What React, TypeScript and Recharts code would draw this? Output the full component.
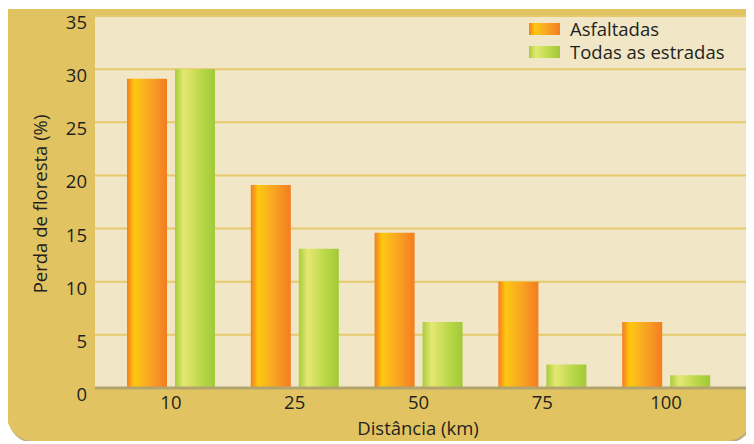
import { Bar, BarChart, CartesianGrid, Label, Legend, XAxis, YAxis } from "recharts";

const categories = ["10", "25", "50", "75", "100"];
const asfaltadas = [29.1, 19.1, 14.6, 10.0, 6.2];
const todasEstradas = [30.0, 13.1, 6.2, 2.2, 1.2];
const yTicks = [0, 5, 10, 15, 20, 25, 30, 35];

const seriesNames = ["Asfaltadas", "Todas as estradas"];

const data = categories.map((dist, i) => ({
  dist,
  asfaltadas: asfaltadas[i],
  todas: todasEstradas[i],
}));

const FONT = "'Open Sans', sans-serif";
const FS = 18.5;
const TEXT = "#231F20";
const orangeCss = "linear-gradient(90deg, #F47B20 0%, #FFC70D 18%, #FCC016 28%, #F8A324 60%, #F47C20 100%)";
const greenCss = "linear-gradient(90deg, #A8CC3A 0%, #E4E872 22%, #DCE46A 32%, #B6D645 70%, #A2C938 100%)";

function XTick({ x, y, payload }: any) {
  return (
    <text x={x} y={y + 13} textAnchor="middle" fill={TEXT} fontSize={FS} fontFamily={FONT}>
      {payload.value}
    </text>
  );
}

function YTick({ x, y, payload }: any) {
  return (
    <text x={x} y={y + 13} textAnchor="end" fill={TEXT} fontSize={FS} fontFamily={FONT}>
      {payload.value}
    </text>
  );
}

function LegendBox() {
  const swatches = [orangeCss, greenCss];
  return (
    <div style={{ fontFamily: FONT, fontSize: FS, color: TEXT }}>
      {seriesNames.map((name, i) => (
        <div key={name} style={{ display: "flex", alignItems: "center", height: 23 }}>
          <span style={{ width: 31, height: 12, background: swatches[i], marginRight: 10 }} />
          <span>{name}</span>
        </div>
      ))}
    </div>
  );
}

export default function App() {
  return (
    <div
      style={{
        marginLeft: -1,
        marginTop: 1,
        width: 745,
        height: 432,
        background: "#E1C461",
        borderRadius: "0 0 26px 26px",
        boxShadow: "1px 2px 0 #B8AC86",
      }}
    >
      <BarChart
        width={745}
        height={432}
        data={data}
        margin={{ top: 7, right: 5, bottom: 0, left: 0 }}
        barSize={40}
        barGap={8}
      >
        <defs>
          <linearGradient id="gOrange" x1="0" y1="0" x2="1" y2="0">
            <stop offset="0%" stopColor="#F47B20" />
            <stop offset="18%" stopColor="#FFC70D" />
            <stop offset="28%" stopColor="#FCC016" />
            <stop offset="60%" stopColor="#F8A324" />
            <stop offset="100%" stopColor="#F47C20" />
          </linearGradient>
          <linearGradient id="gGreen" x1="0" y1="0" x2="1" y2="0">
            <stop offset="0%" stopColor="#A8CC3A" />
            <stop offset="22%" stopColor="#E4E872" />
            <stop offset="32%" stopColor="#DCE46A" />
            <stop offset="70%" stopColor="#B6D645" />
            <stop offset="100%" stopColor="#A2C938" />
          </linearGradient>
        </defs>
        <CartesianGrid vertical={false} fill="#F1E6C5" fillOpacity={1} stroke="#E5C96C" strokeWidth={2} />
        <XAxis
          dataKey="dist"
          height={53}
          padding={{ left: 14, right: 19 }}
          tickLine={false}
          axisLine={{ stroke: "#B3A46E", strokeWidth: 3 }}
          tick={<XTick />}
          interval={0}
        >
          <Label
            content={({ viewBox }: any) => (
              <text
                x={viewBox.x + viewBox.width / 2 - 3}
                y={viewBox.y + 47}
                textAnchor="middle"
                fill={TEXT}
                fontSize={FS}
                fontFamily={FONT}
              >
                Distância (km)
              </text>
            )}
          />
        </XAxis>
        <YAxis
          width={88}
          domain={[0, 35]}
          ticks={yTicks}
          axisLine={false}
          tickLine={false}
          tick={<YTick />}
          interval={0}
        >
          <Label
            content={({ viewBox }: any) => {
              const cx = viewBox.x + 32;
              const cy = viewBox.y + viewBox.height / 2 + 2;
              return (
                <text
                  x={cx}
                  y={cy}
                  transform={`rotate(-90, ${cx}, ${cy})`}
                  textAnchor="middle"
                  dominantBaseline="central"
                  fill={TEXT}
                  fontSize={FS}
                  fontFamily={FONT}
                >
                  Perda de floresta (%)
                </text>
              );
            }}
          />
        </YAxis>
        <Legend
          layout="vertical"
          align="center"
          verticalAlign="middle"
          content={<LegendBox />}
          wrapperStyle={{ left: 522, top: 8, width: "auto" }}
        />
        <Bar dataKey="asfaltadas" name={seriesNames[0]} fill="url(#gOrange)" isAnimationActive={false} />
        <Bar dataKey="todas" name={seriesNames[1]} fill="url(#gGreen)" isAnimationActive={false} />
      </BarChart>
    </div>
  );
}
